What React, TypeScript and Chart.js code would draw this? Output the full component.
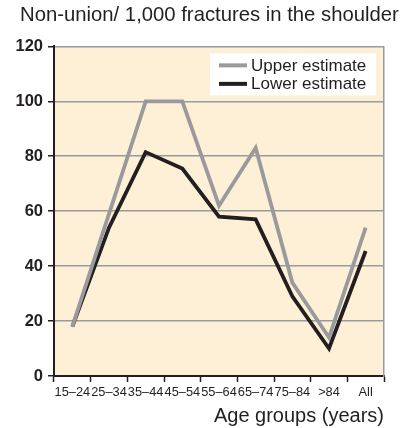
import React, { useEffect, useRef } from "react";
import { Chart, registerables } from "chart.js";

Chart.register(...registerables);

const categories = ["15–24", "25–34", "35–44", "45–54", "55–64", "65–74", "75–84", ">84", "All"];
const upperEstimate = [18, 59, 100, 100, 62, 83, 34, 14, 54];
const lowerEstimate = [18, 54, 81.5, 75.5, 58, 57, 29, 10, 45.5];
const yTicks = [0, 20, 40, 60, 80, 100, 120];

const TITLE = "Non-union/ 1,000 fractures in the shoulder";
const X_TITLE = "Age groups (years)";
const UPPER_LABEL = "Upper estimate";
const LOWER_LABEL = "Lower estimate";

const GRAY = "#9a9a9c";
const BLACK = "#231f20";
const CREAM = "#fdf0d7";
const FONT = "'Liberation Sans', Arial, Helvetica, sans-serif";

const backgroundPlugin = {
  id: "areaBg",
  afterLayout(chart: any) {
    const tb = chart.titleBlock;
    if (tb) {
      tb.left = 20;
      tb.right = chart.width;
    }
  },
  beforeDraw(chart: any) {
    const { ctx, chartArea } = chart;
    if (!chartArea) return;
    ctx.save();
    ctx.fillStyle = CREAM;
    ctx.fillRect(chartArea.left, chartArea.top, chartArea.right - chartArea.left, chartArea.bottom - chartArea.top);
    ctx.restore();
  },
};

const legendPlugin = {
  id: "insideLegend",
  afterDatasetsDraw(chart: any) {
    const { ctx, chartArea } = chart;
    if (!chartArea) return;
    const right = chartArea.right - 8;
    const left = right - 166;
    const top = chartArea.top + 7;
    const h = 42;
    ctx.save();
    ctx.fillStyle = "#ffffff";
    ctx.fillRect(left, top, right - left, h);
    const items = [
      { label: chart.data.datasets[0].label, color: chart.data.datasets[0].borderColor },
      { label: chart.data.datasets[1].label, color: chart.data.datasets[1].borderColor },
    ];
    items.forEach((it, i) => {
      const y = top + 12 + i * 18.5;
      ctx.strokeStyle = it.color;
      ctx.lineWidth = 4;
      ctx.beginPath();
      ctx.moveTo(left + 9, y);
      ctx.lineTo(left + 37, y);
      ctx.stroke();
      ctx.fillStyle = BLACK;
      ctx.font = `17px ${FONT}`;
      ctx.textBaseline = "middle";
      ctx.textAlign = "left";
      ctx.fillText(it.label, left + 41, y + 0.5);
    });
    ctx.restore();
  },
};

export default function App() {
  const ref = useRef<HTMLCanvasElement | null>(null);

  useEffect(() => {
    document.body.style.margin = "0";
    if (!ref.current) return;
    const chart = new Chart(ref.current, {
      type: "line",
      data: {
        labels: categories,
        datasets: [
          {
            label: UPPER_LABEL,
            data: upperEstimate,
            borderColor: GRAY,
            backgroundColor: GRAY,
            borderWidth: 3.8,
            pointRadius: 0,
            tension: 0,
            borderJoinStyle: "miter",
            yAxisID: "y",
          },
          {
            label: LOWER_LABEL,
            data: lowerEstimate,
            borderColor: BLACK,
            backgroundColor: BLACK,
            borderWidth: 3.8,
            pointRadius: 0,
            tension: 0,
            borderJoinStyle: "miter",
            yAxisID: "y",
          },
        ],
      },
      options: {
        responsive: false,
        animation: false,
        layout: { padding: { left: 0, right: 0, top: 0, bottom: 0 } },
        plugins: {
          legend: { display: false },
          tooltip: { enabled: false },
          title: {
            display: true,
            text: TITLE,
            align: "start",
            color: BLACK,
            font: { family: FONT, size: 20.3, weight: "normal", lineHeight: 1.2 },
            padding: { top: 3, bottom: 19 },
          },
        },
        scales: {
          x: {
            type: "category",
            offset: true,
            grid: {
              display: true,
              drawOnChartArea: false,
              drawTicks: true,
              offset: true,
              tickLength: 6,
              tickColor: BLACK,
              tickWidth: 1.5,
            },
            border: { display: true, color: BLACK, width: 2 },
            ticks: {
              color: BLACK,
              font: { family: FONT, size: 12.8 },
              maxRotation: 0,
              autoSkip: false,
              padding: 3,
            },
            title: {
              display: true,
              text: X_TITLE,
              align: "end",
              color: BLACK,
              font: { family: FONT, size: 20 },
              padding: { top: 0, bottom: 0 },
            },
            afterFit(scale: any) {
              scale.height = 52;
            },
          },
          y: {
            min: 0,
            max: 120,
            afterBuildTicks(scale: any) {
              scale.ticks = yTicks.map((v) => ({ value: v }));
            },
            grid: {
              color: GRAY,
              lineWidth: 1.5,
              tickLength: 6,
              tickColor: BLACK,
              tickWidth: 1.5,
            },
            border: { display: true, color: BLACK, width: 2 },
            ticks: {
              color: BLACK,
              font: { family: FONT, size: 16.5, weight: "bold" },
              padding: 5,
            },
            afterFit(scale: any) {
              scale.width = 54;
            },
          },
          y2: {
            position: "right",
            display: true,
            grid: { drawOnChartArea: false, drawTicks: false },
            border: { display: true, color: GRAY, width: 1.5 },
            ticks: { display: false },
            afterFit(scale: any) {
              scale.width = 29;
            },
          },
        },
      },
      plugins: [backgroundPlugin, legendPlugin],
    } as any);
    return () => chart.destroy();
  }, []);

  return (
    <div style={{ width: 413, height: 428 }}>
      <canvas ref={ref} width={413} height={428} />
    </div>
  );
}
